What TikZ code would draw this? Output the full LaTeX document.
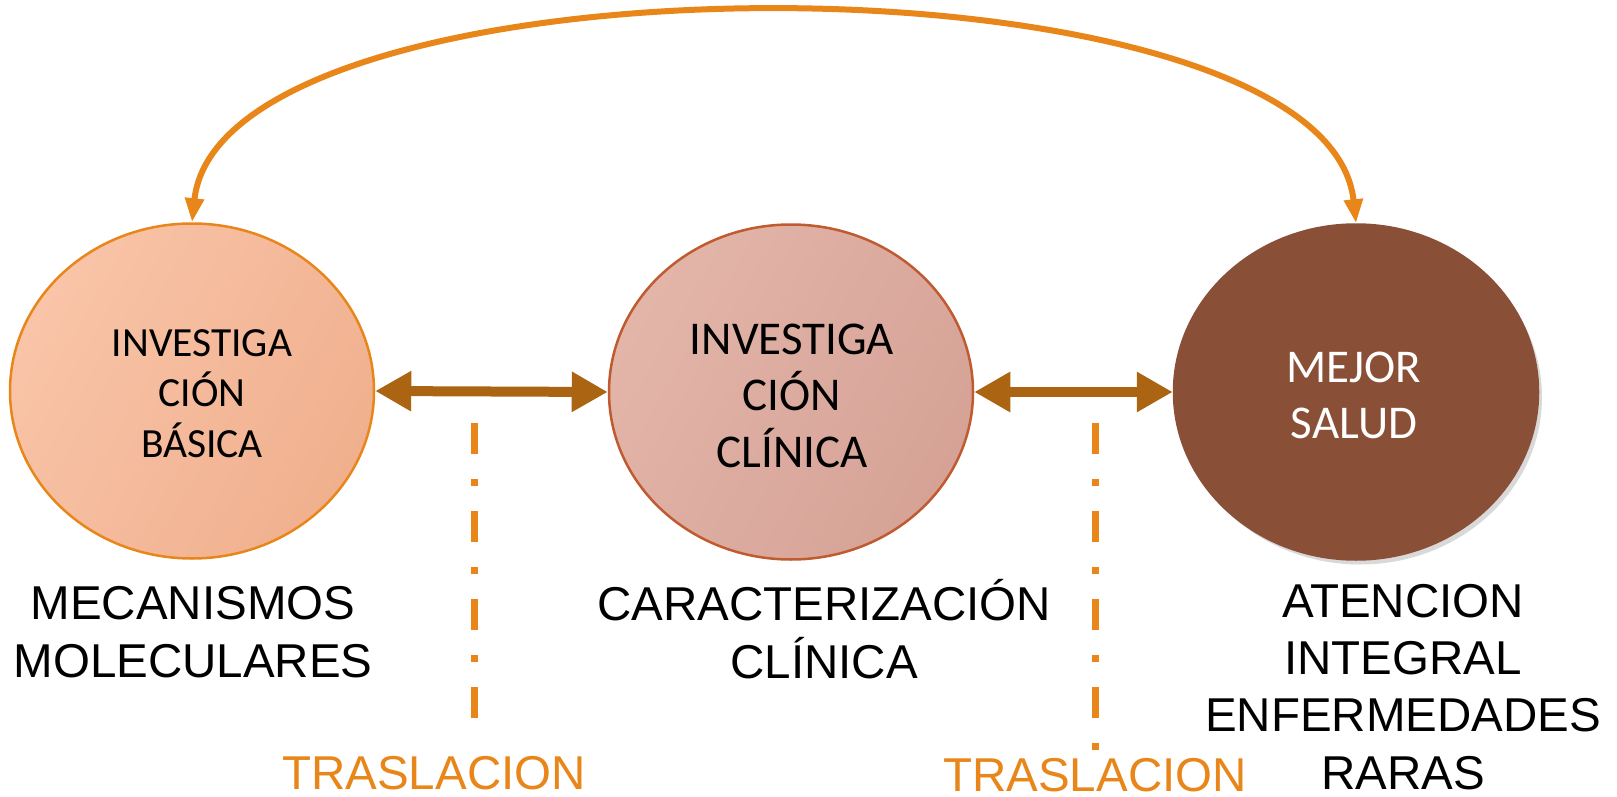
\documentclass[tikz,border=0pt]{standalone}
\usepackage{fontspec}
\setmainfont{Liberation Sans}
\newfontfamily\calib{Carlito}
\usetikzlibrary{arrows.meta,shapes.geometric,shadows}
\definecolor{orng}{HTML}{E8861A}
\definecolor{brarrow}{HTML}{AB6412}
\definecolor{cAa}{HTML}{F9C4A8}
\definecolor{cAb}{HTML}{F0B08E}
\definecolor{cBa}{HTML}{E3B5A9}
\definecolor{cBb}{HTML}{D6A296}
\definecolor{cBd}{HTML}{C05A30}
\definecolor{cC}{HTML}{8A4F37}
\tikzset{
  bubble/.style={ellipse, inner sep=0pt, minimum width=364pt, minimum height=335pt, line width=2.5pt},
  intxt/.style={anchor=base, align=center, inner sep=0pt},
  lbl/.style={anchor=base, align=center, inner sep=0pt, font=\fontsize{47.5}{58}\selectfont},
  dblarrow/.style={draw=brarrow, line width=10pt, {Triangle[length=36pt,width=38pt]}-{Triangle[length=36pt,width=38pt]}},
  transl/.style={draw=orng, line width=7pt, dash pattern=on 31pt off 25pt on 7pt off 25pt},
  toparc/.style={draw=orng, line width=6pt, {Triangle[length=24pt,width=18pt]}-{Triangle[length=24pt,width=18pt]}}
}
\begin{document}
\begin{tikzpicture}[x=1pt,y=-1pt]
\useasboundingbox (0,0) rectangle (1617,797);
% bubbles
\node[bubble, draw=orng, left color=cAa, right color=cAb, shading angle=60] (c1) at (192,391) {};
\node[bubble, draw=cBd, left color=cBa, right color=cBb, shading angle=60] (c2) at (791,392) {};
\node[bubble, draw=cC, fill=cC, drop shadow={shadow xshift=4pt, shadow yshift=-5pt, opacity=0.25, fill=black!60}] (c3) at (1356,392) {};
% texts in bubbles (anchor = baseline of last line)
\node[intxt, font=\calib\fontsize{41.5}{50.5}\selectfont] (t1) at (202,457) {INVESTIGA\\CIÓN\\BÁSICA};
\node[intxt, font=\calib\fontsize{47}{56.5}\selectfont] (t2) at (792,467) {INVESTIGA\\CIÓN\\CLÍNICA};
\node[intxt, text=white, font=\calib\fontsize{47}{56}\selectfont] (t3) at (1354,438) {MEJOR\\SALUD};
% arrows
\draw[dblarrow] (c1.east) -- (c2.west);
\draw[dblarrow] (c2.east) -- (c3.west);
\draw[toparc] (c1.north) .. controls (222,-56) and (1326,-56) .. (c3.north);
% translation lines
\coordinate (d1a) at (474,423);
\coordinate (d1b) at (474,718);
\coordinate (d2a) at (1095,423);
\coordinate (d2b) at (1095,750);
\draw[transl] (d1a) -- (d1b);
\draw[transl] (d2a) -- (d2b);
% labels (anchor = baseline of last line)
\node[lbl] (l1) at (193,677.5) {MECANISMOS\\MOLECULARES};
\node[lbl] (l2) at (824,678) {CARACTERIZACIÓN\\CLÍNICA};
\node[lbl, font=\fontsize{47.5}{57.3}\selectfont] (l3) at (1403,789) {ATENCION\\INTEGRAL\\ENFERMEDADES\\RARAS};
\node[lbl, text=orng] (tr1) at (434,789) {TRASLACION};
\node[lbl, text=orng] (tr2) at (1095,791) {TRASLACION};
\end{tikzpicture}
\end{document}
